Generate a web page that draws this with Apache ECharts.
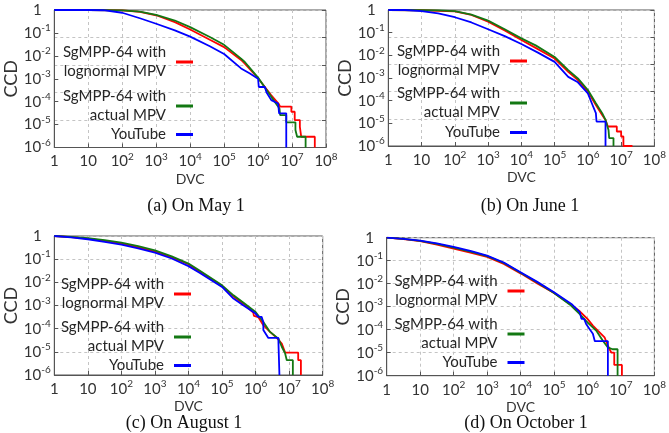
<!DOCTYPE html>
<html>
<head>
<meta charset="utf-8">
<script src="https://cdn.jsdelivr.net/npm/echarts@6/dist/echarts.min.js"></script>
<style>
html,body{margin:0;padding:0;background:#fff;}
#chart{width:669px;height:433px;}
</style>
</head>
<body>
<div id="chart"></div>
<script>
// ---------- data ----------
const seriesNames = ['SgMPP-64 with\nlognormal MPV', 'SgMPP-64 with\nactual MPV', 'YouTube'];
const captions = ['(a) On May 1', '(b) On June 1', '(c) On August 1', '(d) On October 1'];
const xAxisName = 'DVC';
const yAxisName = 'CCD';

// (a) May 1
const mayRedX = [1,10,100,331,1000,3548,1e4,3.8e4,1e5,3.16e5,4.07e5,1e6,2.45e6,3.98e6,4.47e6,9.55e6,9.55e6,1.2e7,1.2e7,1.7e7,1.7e7,1.86e7,1.86e7,4.68e7,4.68e7];
const mayRedY = [1,1,0.955,0.832,0.589,0.295,0.141,0.0501,0.024,0.00661,0.00457,0.00105,1.91e-4,8.32e-5,6.03e-5,6.03e-5,3.63e-5,3.63e-5,1.58e-5,1.58e-5,7.94e-6,7.94e-6,2.95e-6,2.95e-6,1e-6];
const mayGreenX = [1,10,100,331,1000,3548,1e4,3.8e4,1e5,3.16e5,4.07e5,1e6,2.45e6,4.27e6,4.47e6,6.76e6,6.76e6,1.26e7,1.26e7,1.41e7,1.41e7,2.51e7,2.51e7];
const mayGreenY = [1,1,0.955,0.851,0.617,0.347,0.178,0.0661,0.0302,0.00759,0.00537,0.00112,1.62e-4,5.01e-5,2.57e-5,2.57e-5,1.26e-5,1.26e-5,5.75e-6,5.75e-6,2.95e-6,2.95e-6,1e-6];
const mayBlueX = [1,10,27.5,100,331,1000,3548,1e4,3.8e4,1e5,3.16e5,5.75e5,1e6,1.05e6,1.58e6,1.78e6,2.45e6,3.89e6,4.17e6,6.76e6,6.76e6];
const mayBlueY = [1,1,0.977,0.759,0.437,0.251,0.129,0.0692,0.0263,0.012,0.00282,0.0017,0.001,4.37e-4,4.37e-4,2.51e-4,1.17e-4,8.32e-5,3.09e-5,3.09e-5,1e-6];

// (b) June 1
const junRedX = [1,10,100,316,1000,3162,1e4,2.69e4,1e5,2.57e5,5.01e5,1e6,1.74e6,2.69e6,3.39e6,3.98e6,7.41e6,7.41e6,1e7,1e7,1.17e7,1.17e7,2.19e7];
const junRedY = [1,0.977,0.871,0.603,0.302,0.126,0.0479,0.0214,0.00724,0.00186,8.13e-4,2.51e-4,6.46e-5,2.34e-5,1.41e-5,7.24e-6,7.24e-6,4.37e-6,4.37e-6,2.63e-6,2.63e-6,1e-6,1e-6];
const junGreenX = [1,10,31.6,100,316,1000,3162,1e4,2.69e4,1e5,2.57e5,5.01e5,1e6,1.74e6,2.69e6,3.39e6,4.17e6,4.37e6,5.89e6,5.89e6];
const junGreenY = [1,0.977,0.955,0.891,0.631,0.339,0.141,0.0562,0.0275,0.00851,0.00224,9.55e-4,2.95e-4,7.76e-5,2.82e-5,1.41e-5,5.13e-6,2.24e-6,2.24e-6,1e-6];
const junBlueX = [1,3.16,10,31.6,100,316,1000,3162,1e4,3.16e4,1e5,2.57e5,5.01e5,1e6,1.38e6,1.74e6,1.82e6,3.39e6,3.39e6];
const junBlueY = [1,1,0.891,0.708,0.479,0.282,0.141,0.0708,0.0316,0.0132,0.00513,0.00112,6.46e-4,2.09e-4,6.46e-5,2.82e-5,1.2e-5,1.2e-5,1e-6];

// (c) August 1
const augRedX = [1,3.16,10,31.6,100,316,1000,3162,1e4,2.19e4,1e5,2.19e5,4.27e5,8.51e5,8.91e5,1.2e6,1.7e6,2.69e6,4.27e6,6.03e6,7.59e6,1.86e7,1.86e7,2.24e7,2.24e7];
const augRedY = [1,0.891,0.776,0.617,0.468,0.324,0.214,0.12,0.0603,0.0282,0.00692,0.00251,0.0012,5.01e-4,3.55e-4,3.16e-4,1.41e-4,7.24e-5,3.98e-5,2.29e-5,9.33e-6,9.33e-6,4.37e-6,4.37e-6,1e-6];
const augGreenX = [1,3.16,10,31.6,100,316,1000,3162,1e4,2.19e4,1e5,2.19e5,4.27e5,1e6,1.7e6,2.69e6,4.79e6,6.03e6,7.59e6,8.51e6,1.29e7,1.29e7];
const augGreenY = [1,0.912,0.813,0.661,0.513,0.363,0.24,0.132,0.0646,0.0316,0.00741,0.00275,0.00135,5.25e-4,1.95e-4,7.24e-5,3.72e-5,1.66e-5,8.51e-6,4.37e-6,4.37e-6,1e-6];
const augBlueX = [1,3.16,10,31.6,100,316,1000,3162,1e4,2.19e4,1e5,2.19e5,4.27e5,1e6,1.2e6,1.51e6,1.7e6,1.7e6,2.4e6,4.79e6,4.79e6,5.13e6,5.13e6];
const augBlueY = [1,0.871,0.724,0.562,0.427,0.295,0.191,0.107,0.0501,0.0251,0.00631,0.002,0.00102,4.47e-4,3.24e-4,3.24e-4,1.95e-4,8.71e-5,3.98e-5,3.98e-5,2.69e-5,2.69e-5,1e-6];

// (d) October 1
const octRedX = [1,3.16,10,31.6,100,316,1000,3162,1e4,3.16e4,1e5,3.16e5,5.89e5,1e6,1.45e6,2.04e6,3.24e6,4.07e6,5.13e6,6.31e6,6.31e6,1.07e7,1.07e7];
const octRedY = [1,0.871,0.708,0.501,0.339,0.224,0.145,0.0724,0.0282,0.0102,0.00398,0.00126,6.31e-4,2.95e-4,1.51e-4,9.12e-5,4.68e-5,2e-5,1.02e-5,1e-5,2.95e-6,2.95e-6,1e-6];
const octGreenX = [1,3.16,10,31.6,100,316,1000,3162,1e4,3.16e4,1e5,3.16e5,5.89e5,1e6,1.82e6,2.88e6,4.07e6,5.62e6,7.94e6,7.94e6];
const octGreenY = [1,0.891,0.724,0.537,0.372,0.251,0.158,0.0794,0.0302,0.0112,0.00398,0.00115,4.79e-4,2.09e-4,9.12e-5,3.31e-5,1.7e-5,1.41e-5,1.41e-5,1e-6];
const octBlueX = [1,3.16,10,31.6,100,316,1000,3162,1e4,3.16e4,1e5,3.31e5,5.89e5,6.61e5,6.61e5,7.94e5,9.12e5,1.15e6,1.45e6,1.66e6,1.66e6,4.07e6,4.07e6];
const octBlueY = [1,0.891,0.741,0.562,0.398,0.269,0.166,0.0832,0.0316,0.012,0.00427,0.00132,5.75e-4,5.75e-4,2.95e-4,2.95e-4,1.78e-4,1.07e-4,6.61e-5,6.61e-5,3.16e-5,3.16e-5,1e-6];

// ---------- layout / style ----------
const colors = ['#ff0000', '#137813', '#0000ff'];
const FONT = 'Lato';
const panels = [
  {grid:{left:54.3, top:9.3, width:271.7, height:138.2}, grid5:true, legendRight:476, legendTops:[43,87,125], cap:[196,206], xGap:20, yGap:33,
   data:[[mayRedX,mayRedY],[mayGreenX,mayGreenY],[mayBlueX,mayBlueY]]},
  {grid:{left:388.3, top:9, width:273.4, height:137}, grid5:true, legendRight:142, legendTops:[42,84,123], cap:[530,206], xGap:21, yGap:33,
   data:[[junRedX,junRedY],[junGreenX,junGreenY],[junBlueX,junBlueY]]},
  {grid:{left:54.3, top:236, width:268.4, height:139}, grid5:false, legendRight:478, legendTops:[275,318,356], cap:[184,423], xGap:21, yGap:33,
   data:[[augRedX,augRedY],[augGreenX,augGreenY],[augBlueX,augBlueY]]},
  {grid:{left:386.7, top:237.7, width:270.6, height:138}, grid5:false, legendRight:144.5, legendTops:[272,315,353], cap:[526,423], xGap:20, yGap:33,
   data:[[octRedX,octRedY],[octGreenX,octGreenY],[octBlueX,octBlueY]]}
];

function expLabel(v){
  const e = Math.round(Math.log10(v));
  if (e === 0) return '1';
  if (e === 1) return '10';
  return '10{s|' + e + '}';
}
const labelRich = { s: { fontSize: 10, fontFamily: FONT, color: '#333', lineHeight: 10, verticalAlign: 'top' } };
const dash = { type: [3, 3], color: '#c4c4c4', width: 1 };

const option = { animation:false, backgroundColor:'#fff', grid:[], xAxis:[], yAxis:[], series:[], legend:[], graphic:[] };
panels.forEach((p, i) => {
  option.grid.push(Object.assign({ show:true, borderColor:'#555', borderWidth:1, containLabel:false }, p.grid));
  option.xAxis.push({
    type:'log', logBase:10, gridIndex:i, min:1, max:1e8,
    axisLine:{ lineStyle:{ color:'#555' } },
    axisTick:{ inside:true, length:4, lineStyle:{ color:'#555' } },
    splitLine:{ show:true, lineStyle:dash },
    axisLabel:{ formatter:expLabel, rich:labelRich, fontFamily:FONT, fontSize:15, color:'#333', margin:4, lineHeight:20, hideOverlap:false, showMinLabel:true, showMaxLabel:true },
    name:xAxisName, nameLocation:'middle', nameGap:p.xGap,
    nameTextStyle:{ fontFamily:FONT, fontSize:14, color:'#333' }
  });
  option.yAxis.push({
    type:'log', logBase:10, gridIndex:i, min:1e-6, max:1,
    axisLine:{ lineStyle:{ color:'#555' } },
    axisTick:{ inside:true, length:4, lineStyle:{ color:'#555' } },
    splitLine:{ show:!p.grid5, lineStyle:dash },
    axisLabel:{ formatter:expLabel, rich:labelRich, fontFamily:FONT, fontSize:15, color:'#333', margin:17, align:'center', lineHeight:20, hideOverlap:false, showMinLabel:true, showMaxLabel:true },
    name:yAxisName, nameLocation:'middle', nameGap:p.yGap, nameRotate:90,
    nameTextStyle:{ fontFamily:FONT, fontSize:18, color:'#333' }
  });
  p.data.forEach((xy, k) => {
    option.series.push({
      type:'line', name:seriesNames[k], xAxisIndex:i, yAxisIndex:i,
      data: xy[0].map((x, j) => [x, xy[1][j]]),
      showSymbol:false, symbol:'none', clip:true,
      lineStyle:{ width:1.8, color:colors[k] }, itemStyle:{ color:colors[k] },
      z: 2 + k
    });
    option.legend.push({
      data:[seriesNames[k]], right:p.legendRight, top:p.legendTops[k], orient:'vertical', align:'right',
      padding:0, itemWidth:17, itemHeight:3, icon:'rect', selectedMode:false,
      textStyle:{ fontFamily:FONT, fontSize:15, lineHeight:19, color:'#262626', padding:[0,5,0,0] }
    });
  });
  option.graphic.push({
    type:'text', x:p.cap[0], y:p.cap[1],
    style:{ text:captions[i], textAlign:'center', textVerticalAlign:'middle', font:'18px "Liberation Serif"', fill:'#111' }
  });
});
// extra gridline axes for the top two panels (their dashed grid has five bands)
panels.forEach((p, i) => {
  if (p.grid5) {
    option.yAxis.push({
      type:'value', gridIndex:i, min:0, max:5, interval:1, position:'right',
      axisLine:{ show:false }, axisTick:{ show:true, inside:true, length:4, lineStyle:{ color:'#555' } },
      axisLabel:{ show:false }, splitLine:{ show:true, lineStyle:dash }
    });
  }
});

const chart = echarts.init(document.getElementById('chart'), null, { renderer:'canvas' });
chart.setOption(option);
</script>
</body>
</html>
